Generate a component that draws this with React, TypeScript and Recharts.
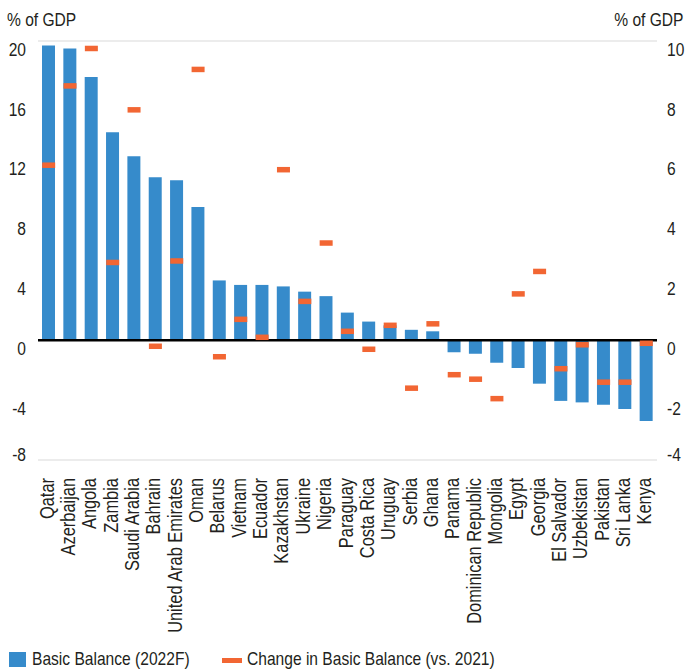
import React from 'react';
import { ComposedChart, Bar, Line, XAxis, YAxis, CartesianGrid, ReferenceLine, Legend } from 'recharts';

const countries = [
  'Qatar', 'Azerbaijan', 'Angola', 'Zambia', 'Saudi Arabia', 'Bahrain', 'United Arab Emirates',
  'Oman', 'Belarus', 'Vietnam', 'Ecuador', 'Kazakhstan', 'Ukraine', 'Nigeria', 'Paraguay',
  'Costa Rica', 'Uruguay', 'Serbia', 'Ghana', 'Panama', 'Dominican Republic', 'Mongolia',
  'Egypt', 'Georgia', 'El Salvador', 'Uzbekistan', 'Pakistan', 'Sri Lanka', 'Kenya',
];

// Basic balance 2022F, % of GDP (left axis)
const basicBalance = [
  19.7, 19.5, 17.6, 13.9, 12.3, 10.9, 10.7, 8.9, 4.0, 3.7, 3.7, 3.6, 3.25, 2.95, 1.85,
  1.25, 1.0, 0.7, 0.6, -0.8, -0.9, -1.5, -1.85, -2.9, -4.05, -4.15, -4.3, -4.6, -5.4,
];

// Change vs. 2021, % of GDP (right axis)
const changeVs2021 = [
  5.85, 8.5, 9.75, 2.6, 7.7, -0.2, 2.65, 9.05, -0.55, 0.7, 0.1, 5.7, 1.3, 3.25, 0.3,
  -0.3, 0.5, -1.6, 0.55, -1.15, -1.3, -1.95, 1.55, 2.3, -0.95, -0.15, -1.4, -1.4, -0.1,
];

const leftTicks = [-8, -4, 0, 4, 8, 12, 16, 20];
const rightTicks = [-4, -2, 0, 2, 4, 6, 8, 10];

const data = countries.map((name, i) => ({
  name,
  balance: basicBalance[i],
  change: changeVs2021[i],
}));

const BLUE = '#368bcb';
const ORANGE = '#f26633';
const TEXT = '#231f20';
const FONT = "'Liberation Sans', Arial, sans-serif";
const NARROW = 0.82; // squeeze Liberation Sans to look like a condensed face

const YTick = ({ x, y, payload, anchor, min }: any) => {
  // labels sit just under their gridline, except the lowest one
  const dy = payload.value === min ? -6 : 8;
  return (
    <text
      transform={`translate(${x},${y + dy}) scale(${NARROW},1)`}
      x={0}
      y={0}
      dy="0.35em"
      textAnchor={anchor}
      fill={TEXT}
      fontSize={19}
      fontFamily={FONT}
    >
      {payload.value}
    </text>
  );
};

const XTick = ({ x, y, payload }: any) => (
  <text
    transform={`translate(${x},${y + 5}) rotate(-90) scale(0.8,1)`}
    x={0}
    y={0}
    dy={5}
    textAnchor="end"
    fill={TEXT}
    fontSize={20.5}
    fontFamily={FONT}
  >
    {payload.value}
  </text>
);

const Marker = ({ cx, cy }: any) => {
  if (cx == null || cy == null) return null;
  return <rect x={cx - 6.5} y={cy - 2.75} width={13} height={5.5} fill={ORANGE} />;
};

const narrowText = (origin: string): React.CSSProperties => ({
  display: 'inline-block',
  transform: `scaleX(${NARROW})`,
  transformOrigin: origin,
  whiteSpace: 'nowrap',
});

const LegendBox = () => (
  <div style={{ position: 'relative', height: 22, fontFamily: FONT, fontSize: 19, color: TEXT, lineHeight: '22px' }}>
    <span style={{ position: 'absolute', left: 9, top: 4, width: 17, height: 15, background: BLUE }} />
    <span style={{ position: 'absolute', left: 32, top: 0, ...narrowText('left') }}>Basic Balance (2022F)</span>
    <span style={{ position: 'absolute', left: 222, top: 10, width: 20, height: 5, background: ORANGE }} />
    <span style={{ position: 'absolute', left: 247, top: 0, ...narrowText('left') }}>Change in Basic Balance (vs. 2021)</span>
  </div>
);

export default function App() {
  return (
    <div style={{ position: 'absolute', top: 0, left: 0, width: 685, height: 670, background: '#fff' }}>
      <div style={{ position: 'absolute', left: 7, top: 9, fontFamily: FONT, fontSize: 19, color: TEXT }}>
        <span style={narrowText('left')}>% of GDP</span>
      </div>
      <div style={{ position: 'absolute', right: 2, top: 9, fontFamily: FONT, fontSize: 19, color: TEXT }}>
        <span style={narrowText('right')}>% of GDP</span>
      </div>
      <ComposedChart
        width={685}
        height={670}
        data={data}
        margin={{ top: 41, right: 0, bottom: 0, left: 0 }}
      >
        <CartesianGrid vertical={false} stroke="#e6e6e6" strokeWidth={1.5} />
        <XAxis
          dataKey="name"
          interval={0}
          height={188}
          axisLine={false}
          tickLine={false}
          tickSize={0}
          tickMargin={13}
          tick={<XTick />}
        />
        <YAxis
          yAxisId="left"
          orientation="left"
          width={38}
          domain={[-8, 20]}
          ticks={leftTicks}
          axisLine={false}
          tickLine={false}
          tickSize={0}
          tickMargin={12}
          tick={<YTick anchor="end" min={-8} />}
        />
        <YAxis
          yAxisId="right"
          orientation="right"
          width={28}
          domain={[-4, 10]}
          ticks={rightTicks}
          axisLine={false}
          tickLine={false}
          tickSize={0}
          tickMargin={10}
          tick={<YTick anchor="start" min={-4} />}
        />
        <Legend verticalAlign="bottom" align="left" content={<LegendBox />} wrapperStyle={{ left: 0, width: 685 }} />
        <Bar yAxisId="left" dataKey="balance" name="Basic Balance (2022F)" fill={BLUE} barSize={13} isAnimationActive={false} />
        <ReferenceLine yAxisId="left" y={0} stroke="#000" strokeWidth={2.5} />
        <Line
          yAxisId="right"
          dataKey="change"
          name="Change in Basic Balance (vs. 2021)"
          stroke="none"
          dot={<Marker />}
          activeDot={false}
          isAnimationActive={false}
        />
      </ComposedChart>
    </div>
  );
}
